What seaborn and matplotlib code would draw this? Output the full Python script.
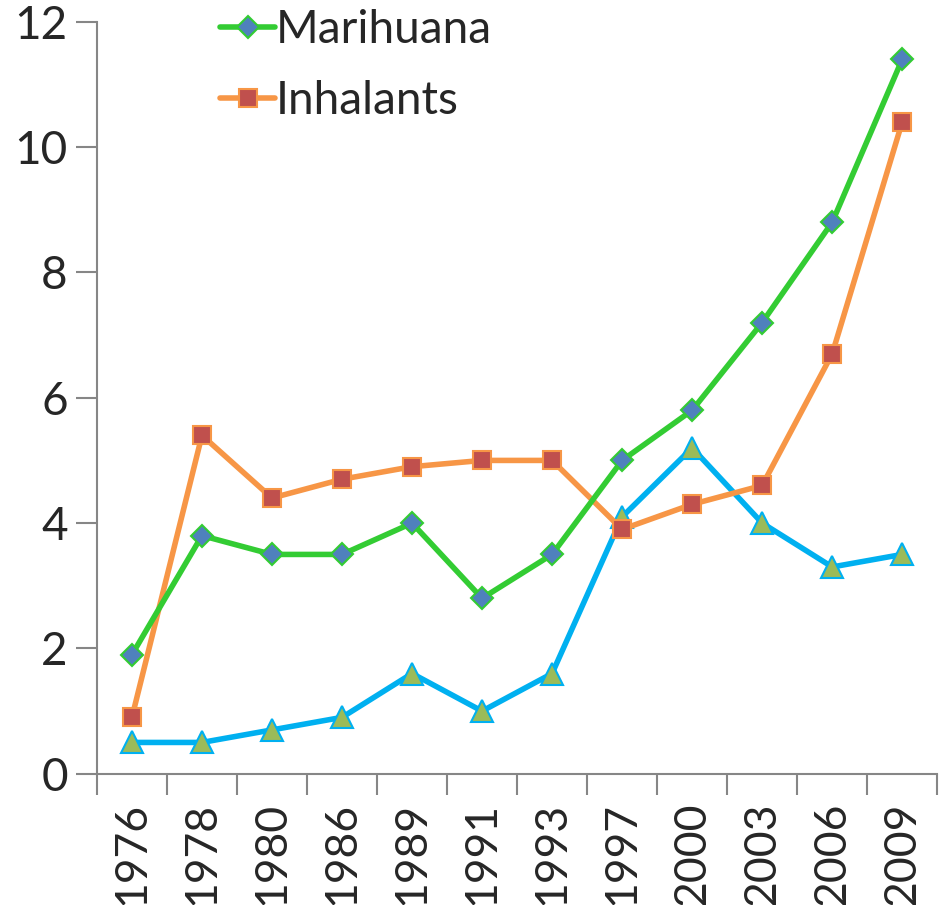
import matplotlib
matplotlib.use("Agg")
import matplotlib.pyplot as plt
import seaborn as sns
import pandas as pd
from matplotlib.lines import Line2D

# data
years = ["1976", "1978", "1980", "1986", "1989", "1991", "1993",
         "1997", "2000", "2003", "2006", "2009"]
marihuana = [1.9, 3.8, 3.5, 3.5, 4.0, 2.8, 3.5, 5.0, 5.8, 7.2, 8.8, 11.4]
inhalants = [0.9, 5.4, 4.4, 4.7, 4.9, 5.0, 5.0, 3.9, 4.3, 4.6, 6.7, 10.4]
other = [0.5, 0.5, 0.7, 0.9, 1.6, 1.0, 1.6, 4.1, 5.2, 4.0, 3.3, 3.5]

sns.set_style("white")
plt.rcParams['font.family'] = ['Lato', 'DejaVu Sans']

df = pd.DataFrame({"pos": range(len(years)), "Marihuana": marihuana,
                   "Inhalants": inhalants, "Other": other})

fig = plt.figure(figsize=(9.41, 9.05), dpi=100)
ax = fig.add_axes([0.103, 0.145, 0.893, 0.831])

# series styles: (column, line colour, marker, face, edge, size)
styles = [
    ("Other", "#00b0f0", "^", "#9bbb59", "#00b0f0", 16),
    ("Inhalants", "#f79646", "s", "#c0504d", "#f79646", 13.5),
    ("Marihuana", "#33cc33", "D", "#4f81bd", "#33cc33", 11),
]
for col, lc, mk, fc, ec, ms in styles:
    sns.lineplot(data=df, x="pos", y=col, ax=ax, color=lc, linewidth=4,
                 marker=mk, markersize=ms, markerfacecolor=fc,
                 markeredgecolor=ec, markeredgewidth=1.5, legend=False)

ax.set_xlim(-0.5, len(years) - 0.5)
ax.set_ylim(0, 12)
ax.set_yticks(range(0, 13, 2))
ax.set_xticks(range(len(years)))
ax.set_xticklabels(years, rotation=90, fontsize=32)
ax.set_xticks([i - 0.5 for i in range(len(years) + 1)], minor=True)
ax.tick_params(axis="x", which="major", length=0, pad=20)
ax.tick_params(axis="x", which="minor", length=15, width=1.5, color="#868686",
               direction="out", bottom=True)
ax.tick_params(axis="y", length=15, width=1.5, color="#868686", direction="out",
               left=True, labelsize=33, pad=6)
ax.set_xlabel("")
ax.set_ylabel("")
for s in ["top", "right"]:
    ax.spines[s].set_visible(False)
for s in ["left", "bottom"]:
    ax.spines[s].set_color("#868686")
    ax.spines[s].set_linewidth(1.5)

handles = [
    Line2D([], [], color="#33cc33", linewidth=4, marker="D", markersize=11,
           markerfacecolor="#4f81bd", markeredgecolor="#33cc33", markeredgewidth=1.5),
    Line2D([], [], color="#f79646", linewidth=4, marker="s", markersize=13.5,
           markerfacecolor="#c0504d", markeredgecolor="#f79646", markeredgewidth=1.5),
]
fig.legend(handles, ["Marihuana", "Inhalants"], loc="upper left",
           bbox_to_anchor=(0.2, 1.025), frameon=False, fontsize=33,
           handlelength=1.2, handletextpad=0.0, labelspacing=0.62,
           borderpad=0.2)

fig.savefig("out.png", dpi=100)
